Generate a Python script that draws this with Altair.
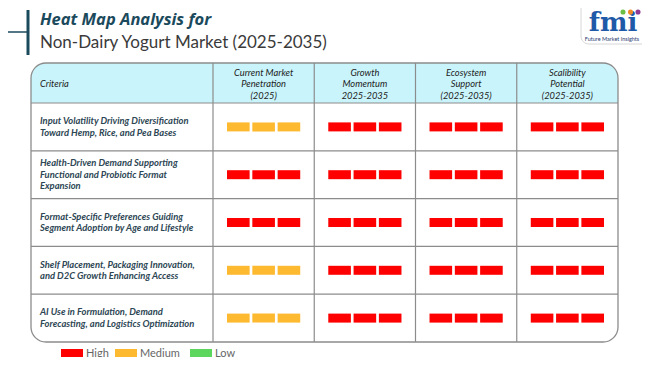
import altair as alt
import pandas as pd

# ---------------- data ----------------
title_line1 = "Heat Map Analysis for"
title_line2 = "Non-Dairy Yogurt Market (2025-2035)"
criteria_header = "Criteria"
criteria = [
    "Input Volatility Driving Diversification\nToward Hemp, Rice, and Pea Bases",
    "Health-Driven Demand Supporting\nFunctional and Probiotic Format\nExpansion",
    "Format-Specific Preferences Guiding\nSegment Adoption by Age and Lifestyle",
    "Shelf Placement, Packaging Innovation,\nand D2C Growth Enhancing Access",
    "AI Use in Formulation, Demand\nForecasting, and Logistics Optimization",
]
metrics = [
    "Current Market\nPenetration\n(2025)",
    "Growth\nMomentum\n2025-2035",
    "Ecosystem\nSupport\n(2025-2035)",
    "Scalibility\nPotential\n(2025-2035)",
]
levels = [
    ["Medium", "High", "High", "High"],
    ["High", "High", "High", "High"],
    ["High", "High", "High", "High"],
    ["Medium", "High", "High", "High"],
    ["Medium", "High", "High", "High"],
]
level_names = ["High", "Medium", "Low"]
level_colors = ["#ff0000", "#fdb92f", "#5cd65c"]
logo_text = "fmi"
logo_sub = "Future Market Insights"
logo_dot_colors = ["#6cbf45", "#f08a24", "#8e3a93"]

# ---------------- layout (page pixels) ----------------
W, H = 634, 349
X0, Y0 = 8, 8
TL, TR, TT, TB = 31, 618, 63, 342
CRIT_R = 213
HEAD_B = 103
n_rows, n_cols = len(criteria), len(metrics)
row_h = (TB - HEAD_B) / n_rows
col_w = (TR - CRIT_R) / n_cols
SEG_W, SEG_STEP, SEG_H = 22.6, 25.3, 9
LH = 11.5

xs = alt.Scale(domain=[X0, X0 + W], nice=False, zero=False)
ys = alt.Scale(domain=[Y0, Y0 + H], nice=False, zero=False, reverse=True)


def X(f="x"):
    return alt.X(f"{f}:Q", scale=xs, axis=None)


def Y(f="y"):
    return alt.Y(f"{f}:Q", scale=ys, axis=None)


def first_line_y(center, text):
    n = text.count("\n") + 1
    return center - (n - 1) / 2 * LH


color_enc = alt.Color("level:N", scale=alt.Scale(domain=level_names, range=level_colors), legend=None)

# bars
bar_rows = []
for i, row in enumerate(levels):
    cy = HEAD_B + (i + 0.5) * row_h
    for j, lev in enumerate(row):
        cx = CRIT_R + (j + 0.5) * col_w
        for k in range(3):
            c = cx + (k - 1) * SEG_STEP
            bar_rows.append(dict(x=c - SEG_W / 2, x2=c + SEG_W / 2, y=cy - SEG_H / 2, y2=cy + SEG_H / 2, level=lev))
bars = alt.Chart(pd.DataFrame(bar_rows)).mark_rect().encode(
    x=X(), x2="x2:Q", y=Y(), y2="y2:Q", color=color_enc
)

# header background
header_bg = alt.Chart(pd.DataFrame([dict(x=TL, x2=TR, y=TT, y2=HEAD_B)])).mark_rect(
    fill="#c9f4fb", cornerRadiusTopLeft=15, cornerRadiusTopRight=15
).encode(x=X(), x2="x2:Q", y=Y(), y2="y2:Q")

# grid lines
hl = pd.DataFrame([dict(x=TL, x2=TR, y=HEAD_B + i * row_h) for i in range(n_rows)])
hlines = alt.Chart(hl).mark_rule(color="#8c8c8c", strokeWidth=1.2).encode(x=X(), x2="x2:Q", y=Y())
vl = pd.DataFrame([dict(x=CRIT_R + j * col_w, y=TT, y2=TB) for j in range(n_cols)])
vlines = alt.Chart(vl).mark_rule(color="#8c8c8c", strokeWidth=1.2).encode(x=X(), y=Y(), y2="y2:Q")

frame = alt.Chart(pd.DataFrame([dict(x=TL, x2=TR, y=TT, y2=TB)])).mark_rect(
    fillOpacity=0, stroke="#8c8c8c", strokeWidth=1.3, cornerRadius=15
).encode(x=X(), x2="x2:Q", y=Y(), y2="y2:Q")

# header text
head_c = (TT + HEAD_B) / 2 + 1
mh = pd.DataFrame([dict(x=CRIT_R + (j + 0.5) * col_w, y=first_line_y(head_c, m), t=m) for j, m in enumerate(metrics)])
metric_text = alt.Chart(mh).mark_text(
    font="Lato", fontStyle="italic", fontSize=9.3, color="#222222", lineBreak="\n",
    lineHeight=LH, align="center", baseline="middle"
).encode(x=X(), y=Y(), text="t:N")
crit_head = alt.Chart(pd.DataFrame([dict(x=40, y=head_c, t=criteria_header)])).mark_text(
    font="Lato", fontStyle="italic", fontSize=9.3, color="#222222", align="left", baseline="middle"
).encode(x=X(), y=Y(), text="t:N")

ct = pd.DataFrame([dict(x=40, y=first_line_y(HEAD_B + (i + 0.5) * row_h, c), t=c) for i, c in enumerate(criteria)])
crit_text = alt.Chart(ct).mark_text(
    font="Lato", fontStyle="italic", fontWeight="bold", fontSize=9.4, color="#2d4654", lineBreak="\n",
    lineHeight=LH, align="left", baseline="middle"
).encode(x=X(), y=Y(), text="t:N")

# title
t1 = alt.Chart(pd.DataFrame([dict(x=40, y=25, t=title_line1)])).mark_text(
    font="Open Sans", fontStyle="italic", fontWeight="bold", fontSize=16.5, color="#1b4a5c", align="left", baseline="alphabetic"
).encode(x=X(), y=Y(), text="t:N")
t2 = alt.Chart(pd.DataFrame([dict(x=40, y=47.5, t=title_line2)])).mark_text(
    font="Lato", fontSize=17, color="#3a3a3a", align="left", baseline="alphabetic"
).encode(x=X(), y=Y(), text="t:N")
tv = alt.Chart(pd.DataFrame([dict(x=28, y=10, y2=55)])).mark_rule(color="#1b4a5c", strokeWidth=3).encode(
    x=X(), y=Y(), y2="y2:Q")
th = alt.Chart(pd.DataFrame([dict(x=0, x2=28, y=32)])).mark_rule(color="#1b4a5c", strokeWidth=1.5).encode(
    x=X(), x2="x2:Q", y=Y())

# logo
logo_box = alt.Chart(pd.DataFrame([dict(x=581, x2=664, y=-6, y2=44)])).mark_rect(
    fillOpacity=0, stroke="#d6d6d6", strokeWidth=1, cornerRadius=8
).encode(x=X(), x2="x2:Q", y=Y(), y2="y2:Q")
logo_main = alt.Chart(pd.DataFrame([dict(x=613, y=31, t=logo_text)])).mark_text(
    font="DejaVu Serif", fontWeight="bold", fontSize=26, color="#1f5aa8", align="center", baseline="alphabetic"
).encode(x=X(), y=Y(), text="t:N")
logo_small = alt.Chart(pd.DataFrame([dict(x=612, y=38.5, t=logo_sub)])).mark_text(
    font="Lato", fontSize=5.5, color="#1f3b70", align="center", baseline="middle"
).encode(x=X(), y=Y(), text="t:N")
dots = pd.DataFrame([dict(x=623 + 7.5 * k, y=12, c=col) for k, col in enumerate(logo_dot_colors)])
logo_dots = alt.Chart(dots).mark_point(filled=True, size=26, opacity=1).encode(
    x=X(), y=Y(), color=alt.Color("c:N", scale=None))

# legend
leg_x = [61, 115, 190]
leg = pd.DataFrame([dict(x=lx, x2=lx + 22, y=349, y2=357, level=n, tx=lx + 25, ty=356.5)
                    for lx, n in zip(leg_x, level_names)])
leg_box = alt.Chart(leg).mark_rect().encode(x=X(), x2="x2:Q", y=Y(), y2="y2:Q", color=color_enc)
leg_txt = alt.Chart(leg).mark_text(
    font="Lato", fontSize=11, color="#666666", align="left", baseline="alphabetic"
).encode(x=X("tx"), y=Y("ty"), text="level:N")

chart = alt.layer(
    header_bg, hlines, vlines, frame, bars, metric_text, crit_head, crit_text,
    t1, t2, tv, th, logo_box, logo_main, logo_small, logo_dots, leg_box, leg_txt
).properties(
    width=W, height=H, padding=0, autosize=alt.AutoSizeParams(type="none"),
    background="white"
).configure_view(stroke=None)

chart.save("out.html", embed_options={"renderer": "svg", "actions": False})
